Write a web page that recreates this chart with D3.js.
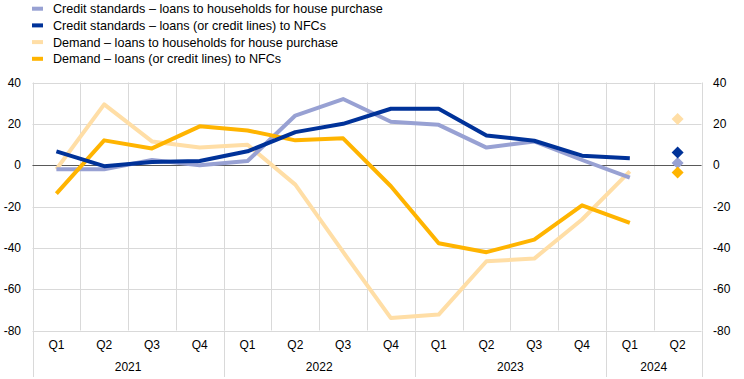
<!DOCTYPE html>
<html><head><meta charset="utf-8">
<script src="https://cdn.jsdelivr.net/npm/d3@7"></script>
<style>body{margin:0;background:#fff}svg{display:block;font-family:"Liberation Sans",Arial,sans-serif}</style>
</head><body><svg id="c" width="744" height="379"></svg>
<script>
const quarters = ["Q1","Q2","Q3","Q4","Q1","Q2","Q3","Q4","Q1","Q2","Q3","Q4","Q1","Q2"];
const years = [{label:"2021",n:4},{label:"2022",n:4},{label:"2023",n:4},{label:"2024",n:2}];
const yTicks = [40,20,0,-20,-40,-60,-80];
const seriesNames = [
  "Credit standards – loans to households for house purchase",
  "Credit standards – loans (or credit lines) to NFCs",
  "Demand – loans to households for house purchase",
  "Demand – loans (or credit lines) to NFCs"
];
const seriesColors = ["#98A1D3","#003299","#FFDEA6","#FFB400"];
const csHouseholds = [-2,-2,2.5,0,2,24,32,21,19.5,8.5,11.5,2.5,-6];
const csNFC = [6.7,-0.5,1.5,2,6.7,16,20,27.3,27.3,14.4,11.8,4.6,3.3];
const demHouseholds = [-2,29.4,11.5,8.6,9.9,-9.4,-42,-74,-72.3,-46.5,-45.2,-26.3,-3];
const demNFC = [-13.8,12,8.1,18.8,16.8,12,13,-10.2,-37.8,-42.1,-36,-19.4,-27.9];
const expected = [1,6.1,22.3,-3.5]; // Q2 2024 expectations, in series order
const seriesValues = [csHouseholds, csNFC, demHouseholds, demNFC];
const drawOrder = [2,0,3,1];

const svg = d3.select("#c");
const L = 32.5, R = 701.5, T = 82.5, B = 330.5;
const idx = d3.range(quarters.length);
const x = d3.scaleBand().domain(idx).range([L,R]).padding(0);
const y = d3.scaleLinear().domain([-80,40]).range([B,T]);
const cx = i => x(i) + x.bandwidth()/2;

const g = svg.append("g");
g.selectAll("line.h").data(yTicks).join("line")
  .attr("x1",L).attr("x2",R).attr("y1",d=>Math.round(y(d))+0.5).attr("y2",d=>Math.round(y(d))+0.5)
  .attr("stroke","#d9d9d9").attr("stroke-width",1);
g.selectAll("line.v").data(d3.range(quarters.length+1)).join("line")
  .attr("x1",i=>Math.round(i<quarters.length?x(i):R)+0.5).attr("x2",i=>Math.round(i<quarters.length?x(i):R)+0.5)
  .attr("y1",T).attr("y2",B).attr("stroke","#d9d9d9");
g.append("line").attr("x1",L).attr("x2",R).attr("y1",Math.round(y(0))+0.5).attr("y2",Math.round(y(0))+0.5).attr("stroke","#595959");

svg.append("g").selectAll("text").data(yTicks).join("text")
  .attr("x",21).attr("y",d=>y(d)).attr("dy","0.35em").attr("text-anchor","end")
  .attr("font-size",12).attr("fill","#000").text(d=>d);
svg.append("g").selectAll("text").data(yTicks).join("text")
  .attr("x",713).attr("y",d=>y(d)).attr("dy","0.35em").attr("text-anchor","start")
  .attr("font-size",12).attr("fill","#000").text(d=>d);

svg.append("g").selectAll("text").data(quarters).join("text")
  .attr("x",(d,i)=>cx(i)).attr("y",345).attr("dy","0.35em").attr("text-anchor","middle")
  .attr("font-size",12).attr("fill","#000").text(d=>d);
let start = 0;
const yearPos = years.map(yr => { const s = start; start += yr.n; return {label:yr.label, s, e:start}; });
const edge = i => i<quarters.length ? x(i) : R;
svg.append("g").selectAll("text").data(yearPos).join("text")
  .attr("x",d=>(edge(d.s)+edge(d.e))/2).attr("y",367).attr("dy","0.35em").attr("text-anchor","middle")
  .attr("font-size",12).attr("fill","#000").text(d=>d.label);
const seps = [0].concat(yearPos.map(d=>d.e));
svg.append("g").selectAll("line").data(seps).join("line")
  .attr("x1",d=>Math.round(edge(d))+0.5).attr("x2",d=>Math.round(edge(d))+0.5)
  .attr("y1",B).attr("y2",377).attr("stroke","#d9d9d9");

const line = d3.line().x((d,i)=>cx(i)).y(d=>y(d));
svg.append("g").selectAll("path").data(drawOrder).join("path")
  .attr("d",k=>line(seriesValues[k])).attr("fill","none")
  .attr("stroke",k=>seriesColors[k]).attr("stroke-width",4).attr("stroke-linejoin","round");

const dOrder = [2,0,1,3];
const dx = cx(quarters.length-1);
svg.append("g").selectAll("path").data(dOrder).join("path")
  .attr("d",k=>{const yy=y(expected[k]); const r=6; return `M${dx},${yy-r}L${dx+r},${yy}L${dx},${yy+r}L${dx-r},${yy}Z`;})
  .attr("fill",k=>seriesColors[k]);

const lg = svg.append("g").selectAll("g").data(seriesNames).join("g")
  .attr("transform",(d,i)=>`translate(32,${8.7+i*16.7})`);
lg.append("rect").attr("x",0).attr("y",-2).attr("width",11).attr("height",4).attr("fill",(d,i)=>seriesColors[i]);
lg.append("text").attr("x",21).attr("y",0).attr("dy","0.35em").attr("font-size",12.6).attr("fill","#000").text(d=>d);
</script></body></html>
